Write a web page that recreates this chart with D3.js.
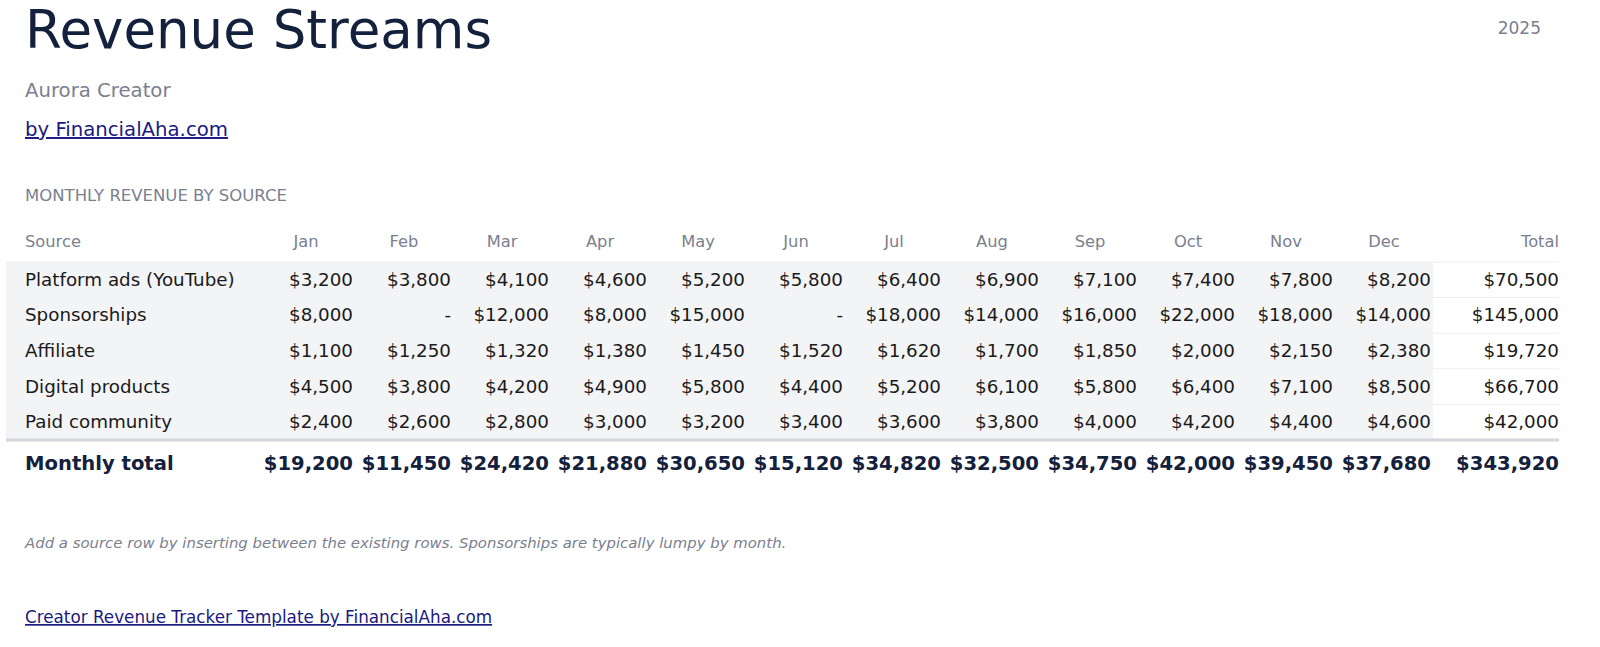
<!DOCTYPE html>
<html><head><meta charset="utf-8">
<script src="https://cdn.jsdelivr.net/npm/d3@7"></script>
<style>body{margin:0;background:#fff;font-family:"DejaVu Sans",sans-serif}</style>
</head><body><svg id="c" width="1600" height="647"></svg>
<script>
const months=["Jan","Feb","Mar","Apr","May","Jun","Jul","Aug","Sep","Oct","Nov","Dec"];
const sources=["Platform ads (YouTube)","Sponsorships","Affiliate","Digital products","Paid community"];
const platformAds=[3200,3800,4100,4600,5200,5800,6400,6900,7100,7400,7800,8200];
const sponsorships=[8000,null,12000,8000,15000,null,18000,14000,16000,22000,18000,14000];
const affiliate=[1100,1250,1320,1380,1450,1520,1620,1700,1850,2000,2150,2380];
const digitalProducts=[4500,3800,4200,4900,5800,4400,5200,6100,5800,6400,7100,8500];
const paidCommunity=[2400,2600,2800,3000,3200,3400,3600,3800,4000,4200,4400,4600];
const values=[platformAds,sponsorships,affiliate,digitalProducts,paidCommunity];

const svg=d3.select("#c");
const fmt=v=>v==null?"-":"$"+d3.format(",")(v);
const ink="#14213d", gray="#7a8090", text="#1a1a1a";

svg.append("text").attr("x",25).attr("y",48).attr("font-size",53).attr("fill",ink).text("Revenue Streams");
svg.append("text").attr("x",1541).attr("y",34).attr("text-anchor","end").attr("font-size",17).attr("fill",gray).text("2025");
svg.append("text").attr("x",25).attr("y",97).attr("font-size",19.7).attr("fill",gray).text("Aurora Creator");
svg.append("text").attr("x",25).attr("y",136).attr("font-size",19.7).attr("fill","#1a1a80").attr("text-decoration","underline").text("by FinancialAha.com");
svg.append("text").attr("x",25).attr("y",201).attr("font-size",16.5).attr("fill",gray).text("MONTHLY REVENUE BY SOURCE");

const x=d3.scaleBand().domain(months).range([257,1433]);
const y=d3.scaleBand().domain(sources).range([262,440]);
const totalRight=1559;

svg.append("rect").attr("x",6).attr("y",262).attr("width",1433-6).attr("height",y.range()[1]-262).attr("fill","#f3f4f6");
svg.append("line").attr("x1",6).attr("x2",totalRight).attr("y1",262).attr("y2",262).attr("stroke","#eceef1");
sources.forEach((s,i)=>{ if(i>0) svg.append("line").attr("x1",1433).attr("x2",totalRight).attr("y1",y(s)).attr("y2",y(s)).attr("stroke","#eceef1");});
svg.append("line").attr("x1",6).attr("x2",totalRight).attr("y1",440).attr("y2",440).attr("stroke","#d3d6de").attr("stroke-width",3);

svg.append("text").attr("x",25).attr("y",247).attr("font-size",16.3).attr("fill",gray).text("Source");
months.forEach(m=>svg.append("text").attr("x",x(m)+x.bandwidth()/2).attr("y",247).attr("text-anchor","middle").attr("font-size",16.3).attr("fill",gray).text(m));
svg.append("text").attr("x",totalRight).attr("y",247).attr("text-anchor","end").attr("font-size",16.3).attr("fill",gray).text("Total");

sources.forEach((s,i)=>{
  const cy=y(s)+y.bandwidth()/2+6;
  svg.append("text").attr("x",25).attr("y",cy).attr("font-size",18.3).attr("fill",text).text(s);
  values[i].forEach((v,j)=>svg.append("text").attr("x",x(months[j])+x.bandwidth()-2).attr("y",cy).attr("text-anchor","end").attr("font-size",18.3).attr("fill",text).text(fmt(v)));
  svg.append("text").attr("x",totalRight).attr("y",cy).attr("text-anchor","end").attr("font-size",18.3).attr("fill",text).text(fmt(d3.sum(values[i])));
});
const ty=470;
svg.append("text").attr("x",25).attr("y",ty).attr("font-size",19.6).attr("font-weight","bold").attr("fill",ink).text("Monthly total");
months.forEach((m,j)=>svg.append("text").attr("x",x(m)+x.bandwidth()-2).attr("y",ty).attr("text-anchor","end").attr("font-size",19.6).attr("font-weight","bold").attr("fill",ink).text(fmt(d3.sum(values,r=>r[j]))));
svg.append("text").attr("x",totalRight).attr("y",ty).attr("text-anchor","end").attr("font-size",19.6).attr("font-weight","bold").attr("fill",ink).text(fmt(d3.sum(values,r=>d3.sum(r))));

svg.append("text").attr("x",25).attr("y",548).attr("font-size",14.9).attr("font-style","italic").attr("fill",gray).text("Add a source row by inserting between the existing rows. Sponsorships are typically lumpy by month.");
svg.append("text").attr("x",25).attr("y",623).attr("font-size",16.8).attr("fill","#1a1a80").attr("text-decoration","underline").text("Creator Revenue Tracker Template by FinancialAha.com");
</script></body></html>
